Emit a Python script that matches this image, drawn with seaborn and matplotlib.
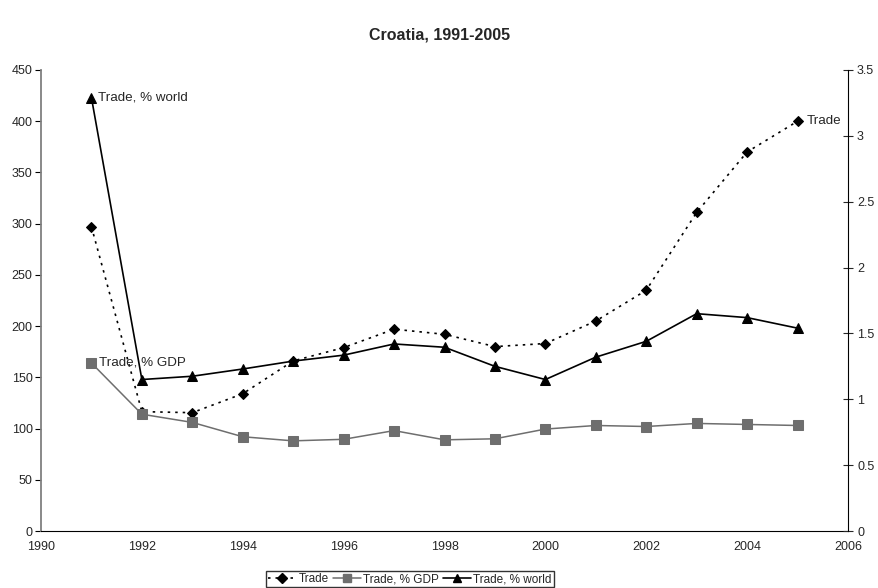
import matplotlib
matplotlib.use("Agg")
import matplotlib.pyplot as plt
import seaborn as sns
import pandas as pd
from matplotlib.lines import Line2D

sns.set_style("white")
plt.rcParams["font.family"] = ["Liberation Sans", "DejaVu Sans"]

years = list(range(1991, 2006))
trade = [297, 116.5, 115.5, 134, 166, 179, 197, 192, 180, 183, 205, 235, 311, 370, 400]
trade_gdp = [164, 114, 106, 92, 88, 89.5, 98, 89, 90, 99.5, 103, 102, 105, 104, 103]
trade_world = [3.29, 1.15, 1.175, 1.23, 1.29, 1.335, 1.42, 1.395, 1.25, 1.15, 1.32, 1.44, 1.65, 1.62, 1.54]

df = pd.DataFrame({"year": years, "Trade": trade, "Trade, % GDP": trade_gdp,
                   "Trade, % world": trade_world})

GRAY = "#6e6e6e"
DOTS = (0, (1.5, 3))

fig = plt.figure(figsize=(8.79, 5.88), dpi=100)
ax = fig.add_axes([41 / 879, 1 - 531 / 588, (848 - 41) / 879, (531 - 70) / 588])
ax2 = ax.twinx()

sns.lineplot(data=df, x="year", y="Trade", ax=ax, color="black", linestyle=DOTS,
             linewidth=1.2, marker="D", markersize=5, markeredgecolor="black", legend=False)
sns.lineplot(data=df, x="year", y="Trade, % GDP", ax=ax, color=GRAY, linewidth=1.1,
             marker="s", markersize=6.5, markeredgecolor=GRAY, legend=False)
sns.lineplot(data=df, x="year", y="Trade, % world", ax=ax2, color="black", linewidth=1.2,
             marker="^", markersize=6.5, markeredgecolor="black", legend=False)

ax.set_xlim(1990, 2006)
ax.set_ylim(0, 450)
ax2.set_ylim(0, 3.5)
ax.set_xticks(range(1990, 2007, 2))
ax.set_yticks(range(0, 451, 50))
ax2.set_yticks([0, 0.5, 1, 1.5, 2, 2.5, 3, 3.5])
ax2.set_yticklabels(["0", "0.5", "1", "1.5", "2", "2.5", "3", "3.5"])
ax.set_xlabel("")
ax.set_ylabel("")
ax2.set_ylabel("")

for a in (ax, ax2):
    a.spines["top"].set_visible(False)
ax.spines["right"].set_visible(False)
ax2.spines["left"].set_visible(False)
ax2.spines["bottom"].set_visible(False)
ax.spines["left"].set_color("#808080")
ax.spines["left"].set_linewidth(1.3)
ax.spines["bottom"].set_color("black")
ax2.spines["right"].set_color("black")

ax.tick_params(axis="both", labelsize=9, length=4, width=0.8, direction="out", color="black")
ax.tick_params(axis="y", pad=2)
ax2.tick_params(axis="y", labelsize=9, length=7, width=0.8, direction="inout", pad=3)

ax.text(1991.13, trade_world[0] / 3.5 * 450, "Trade, % world", fontsize=9.6, va="center", ha="left")
ax.text(1991.15, trade_gdp[0], "Trade, % GDP", fontsize=9.6, va="center", ha="left")
ax.text(2005.18, trade[-1], "Trade", fontsize=9.6, va="center", ha="left")

fig.suptitle("Croatia, 1991-2005", y=1 - 35 / 588, fontsize=11.5, fontweight="bold", va="center")

handles = [
    Line2D([], [], color="black", linestyle=DOTS, linewidth=1.2, marker="D", markersize=5),
    Line2D([], [], color=GRAY, linewidth=1.1, marker="s", markersize=5.5),
    Line2D([], [], color="black", linewidth=1.2, marker="^", markersize=5.5),
]
fig.legend(handles, ["Trade", "Trade, % GDP", "Trade, % world"], loc="center",
           bbox_to_anchor=(410 / 879, 1 - 579 / 588), ncol=3, fontsize=8.5, frameon=True,
           fancybox=False, edgecolor="black", borderpad=0.15, handlelength=2.4,
           handletextpad=0.2, columnspacing=0.3, borderaxespad=0)

fig.savefig("out.png", dpi=100)
